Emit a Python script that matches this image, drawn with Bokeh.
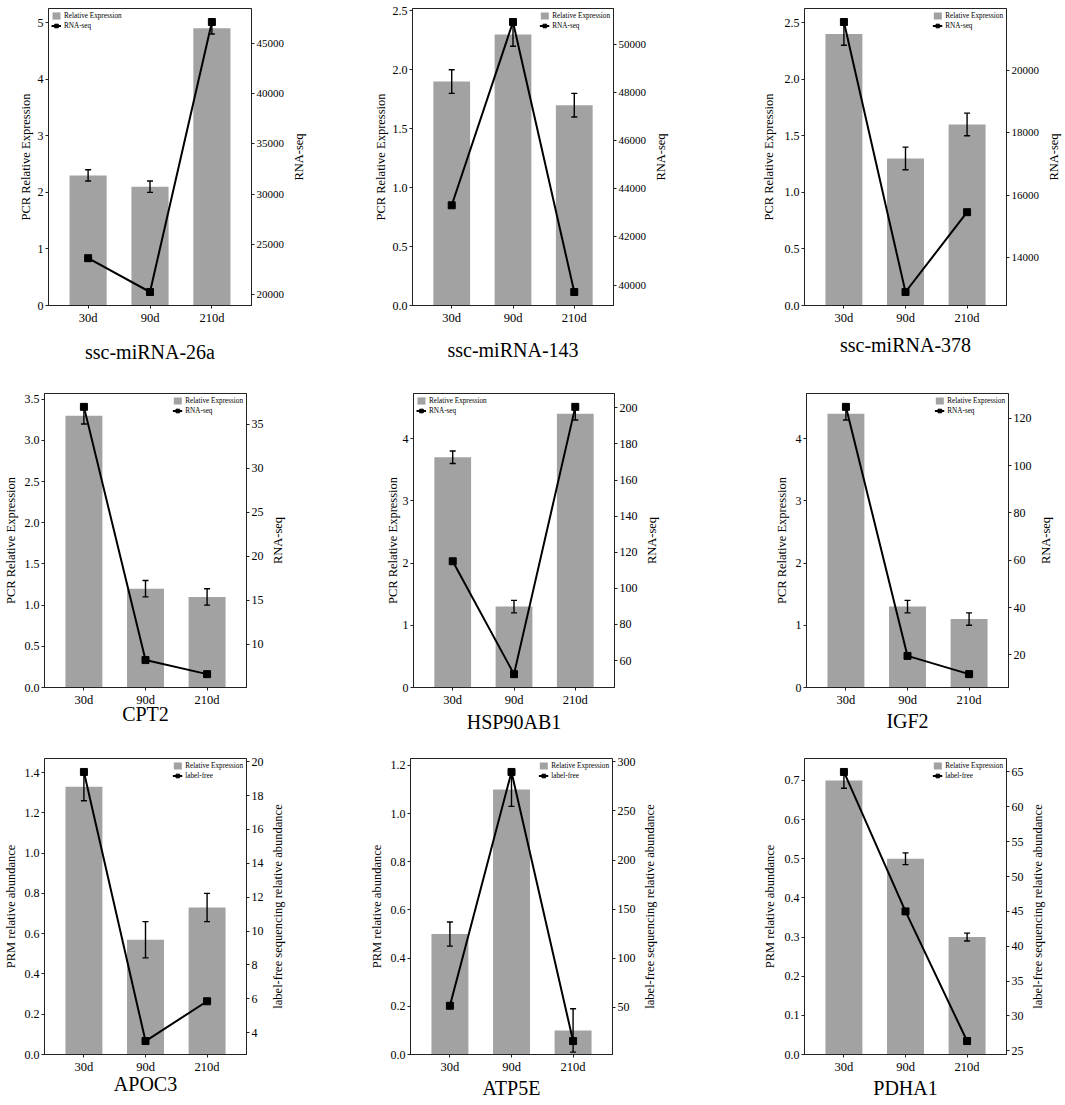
from bokeh.plotting import figure
from bokeh.models import (FactorRange, Range1d, LinearAxis, FixedTicker,
                          NumeralTickFormatter)
from bokeh.layouts import row, column
from bokeh.embed import file_html
from bokeh.resources import INLINE

# ---------------- data ----------------
days = ["30d", "90d", "210d"]

names = ["ssc-miRNA-26a", "ssc-miRNA-143", "ssc-miRNA-378",
         "CPT2", "HSP90AB1", "IGF2",
         "APOC3", "ATP5E", "PDHA1"]

pcr_26a = [2.3, 2.1, 4.9]
err_26a = [0.1, 0.1, 0.1]
seq_26a = [23600, 20230, 47150]

pcr_143 = [1.9, 2.3, 1.7]
err_143 = [0.1, 0.1, 0.1]
seq_143 = [43320, 50950, 39710]

pcr_378 = [2.4, 1.3, 1.6]
err_378 = [0.1, 0.1, 0.1]
seq_378 = [21550, 12890, 15450]

pcr_cpt2 = [3.3, 1.2, 1.1]
err_cpt2 = [0.1, 0.1, 0.1]
seq_cpt2 = [37.0, 8.2, 6.6]

pcr_hsp = [3.7, 1.3, 4.4]
err_hsp = [0.1, 0.1, 0.1]
seq_hsp = [115.0, 52.5, 200.5]

pcr_igf2 = [4.4, 1.3, 1.1]
err_igf2 = [0.1, 0.1, 0.1]
seq_igf2 = [124.8, 19.6, 11.9]

prm_apoc3 = [1.33, 0.57, 0.73]
err_apoc3 = [0.07, 0.09, 0.07]
lf_apoc3 = [19.4, 3.5, 5.85]

prm_atp5e = [0.5, 1.1, 0.1]
err_atp5e = [0.05, 0.07, 0.09]
lf_atp5e = [51.7, 289.7, 15.8]

prm_pdha1 = [0.7, 0.5, 0.3]
err_pdha1 = [0.02, 0.015, 0.01]
lf_pdha1 = [65.0, 45.0, 26.4]

left_ticks = [
    [0, 1, 2, 3, 4, 5],
    [0.0, 0.5, 1.0, 1.5, 2.0, 2.5],
    [0.0, 0.5, 1.0, 1.5, 2.0, 2.5],
    [0.0, 0.5, 1.0, 1.5, 2.0, 2.5, 3.0, 3.5],
    [0, 1, 2, 3, 4],
    [0, 1, 2, 3, 4],
    [0.0, 0.2, 0.4, 0.6, 0.8, 1.0, 1.2, 1.4],
    [0.0, 0.2, 0.4, 0.6, 0.8, 1.0, 1.2],
    [0.0, 0.1, 0.2, 0.3, 0.4, 0.5, 0.6, 0.7],
]
right_ticks = [
    [20000, 25000, 30000, 35000, 40000, 45000],
    [40000, 42000, 44000, 46000, 48000, 50000],
    [14000, 16000, 18000, 20000],
    [10, 15, 20, 25, 30, 35],
    [60, 80, 100, 120, 140, 160, 180, 200],
    [20, 40, 60, 80, 100, 120],
    [4, 6, 8, 10, 12, 14, 16, 18, 20],
    [50, 100, 150, 200, 250, 300],
    [25, 30, 35, 40, 45, 50, 55, 60, 65],
]

bar_label = "Relative Expression"
left_titles = ["PCR Relative Expression"] * 6 + ["PRM relative abundance"] * 3
right_titles = ["RNA-seq"] * 6 + ["label-free sequencing relative abundance"] * 3
line_labels = ["RNA-seq"] * 6 + ["label-free"] * 3

bars = [pcr_26a, pcr_143, pcr_378, pcr_cpt2, pcr_hsp, pcr_igf2, prm_apoc3, prm_atp5e, prm_pdha1]
errs = [err_26a, err_143, err_378, err_cpt2, err_hsp, err_igf2, err_apoc3, err_atp5e, err_pdha1]
seqs = [seq_26a, seq_143, seq_378, seq_cpt2, seq_hsp, seq_igf2, lf_apoc3, lf_atp5e, lf_pdha1]

# ---------------- layout / style (pixels) ----------------
col_start = [0, 363, 713]
col_end = [363, 713, 1062]
row_h = [365, 370, 366]
# frame left, frame right, start of right-label strip
frame_x = [
    (48, 251, 287), (412, 614, 649), (804, 1007, 1042),
    (44, 247, 266), (413, 616, 640), (806, 1008, 1034),
    (43, 247, 266), (410, 614, 638), (804, 1007, 1026),
]
# top, bottom borders
frame_y = [
    (8, 55), (8, 55), (8, 55),
    (28, 39), (26, 42), (28, 41),
    (23, 42), (23, 42), (23, 42),
]
legend_locs = ["top_left", "top_right", "top_right",
               "top_right", "top_left", "top_right",
               "top_right", "top_right", "top_right"]
left_fmt = ["0", "0.0", "0.0", "0.0", "0", "0", "0.0", "0.0", "0.0"]
right_tick_size = ["11px"] * 3 + ["12px"] * 6
left_lab_standoff = [2, 2, 6, 4, 0, 4, 4, 4, 5]
title_standoff = [13, 11, 6, -7, 1, 0, -4, 0, 0]
STRIP_LB = 18

FONT = "Liberation Serif"
BAR = "#a2a2a2"
AX = "#222222"


def style_axis(ax, tick_size="12px"):
    ax.axis_line_color = AX
    ax.major_tick_line_color = AX
    ax.minor_tick_line_color = None
    ax.major_tick_out = 3
    ax.major_tick_in = 0
    ax.minor_tick_out = 0
    ax.minor_tick_in = 0
    ax.major_label_standoff = 2
    ax.major_label_text_font = FONT
    ax.major_label_text_font_size = tick_size
    ax.major_label_text_color = "black"
    ax.axis_label_text_font = FONT
    ax.axis_label_text_font_size = "12.5px"
    ax.axis_label_text_font_style = "normal"
    ax.axis_label_text_color = "black"


rows = [[], [], []]
for i in range(9):
    r, c = divmod(i, 3)
    fl, fr, strip = frame_x[i]
    T, B = frame_y[i]
    L = fl - col_start[c]
    main_w = strip - col_start[c]
    R = main_w - L - (fr - fl)

    vals, ers, sq = bars[i], errs[i], seqs[i]
    lo = [v - e for v, e in zip(vals, ers)]
    hi = [v + e for v, e in zip(vals, ers)]
    ytop = max(hi) * 1.05
    smin, smax = min(sq), max(sq)
    span = smax - smin

    p = figure(width=main_w, height=row_h[r],
               x_range=FactorRange(factors=days, range_padding=0.14,
                                   range_padding_units="absolute"),
               y_range=Range1d(0, ytop),
               min_border_left=L, min_border_right=R,
               min_border_top=T, min_border_bottom=B,
               output_backend="svg", toolbar_location=None)
    p.extra_y_ranges = {"r": Range1d(smin - 0.05 * span, smax + 0.05 * span)}
    p.xgrid.visible = False
    p.ygrid.visible = False
    p.outline_line_color = AX
    p.outline_line_width = 1

    p.vbar(x=days, top=vals, width=0.6, fill_color=BAR, line_color=None,
           legend_label=bar_label)
    p.segment(x0=days, y0=lo, x1=days, y1=hi, line_color="black", line_width=1.4)
    p.scatter(x=days + days, y=lo + hi, marker="dash", size=6,
              line_color="black", line_width=1.4)
    p.line(x=days, y=sq, y_range_name="r", line_color="black", line_width=2,
           legend_label=line_labels[i])
    p.scatter(x=days, y=sq, y_range_name="r", marker="square", size=7,
              fill_color="black", line_color="black", legend_label=line_labels[i])

    # bottom axis, with the gene name as its label
    xa = p.xaxis[0]
    style_axis(xa, "12.5px")
    xa.axis_label = names[i]
    xa.axis_label_text_font_size = "20px"
    xa.axis_label_standoff = title_standoff[i]

    # left axis
    ya = p.yaxis[0]
    style_axis(ya, "12px")
    ya.ticker = FixedTicker(ticks=left_ticks[i])
    ya.formatter = NumeralTickFormatter(format=left_fmt[i])
    ya.axis_label = left_titles[i]
    ya.axis_label_standoff = left_lab_standoff[i]

    # right axis (ticks only; its title sits in the strip next to it)
    ra = LinearAxis(y_range_name="r")
    style_axis(ra, right_tick_size[i])
    ra.ticker = FixedTicker(ticks=right_ticks[i])
    ra.formatter = NumeralTickFormatter(format="0")
    p.add_layout(ra, "right")

    lg = p.legend[0]
    lg.location = legend_locs[i]
    lg.margin = 1
    lg.padding = 2
    lg.spacing = 1
    lg.glyph_width = 10
    lg.glyph_height = 9
    lg.label_height = 8
    lg.label_standoff = 3
    lg.label_text_font = FONT
    lg.label_text_font_size = "7.2px"
    lg.label_text_color = "black"
    lg.background_fill_alpha = 0
    lg.border_line_alpha = 0

    # strip holding the right-hand axis title, reading bottom-to-top
    sw = col_end[c] - strip
    s = figure(width=sw, height=row_h[r], x_range=Range1d(0, 1), y_range=Range1d(0, 1),
               min_border_left=STRIP_LB, min_border_right=sw - STRIP_LB - 1,
               min_border_top=T, min_border_bottom=B,
               x_axis_location=None, y_axis_location=None,
               output_backend="svg", toolbar_location=None)
    s.outline_line_color = None
    s.grid.visible = False
    sa = LinearAxis(axis_label=right_titles[i])
    style_axis(sa)
    sa.ticker = FixedTicker(ticks=[])
    sa.axis_line_color = None
    sa.major_tick_out = 0
    sa.major_label_standoff = 0
    sa.axis_label_standoff = 0
    s.add_layout(sa, "left")

    rows[r].extend([p, s])

layout = column(row(*rows[0]), row(*rows[1]), row(*rows[2]))
open("out.html", "w").write(file_html(layout, INLINE))
